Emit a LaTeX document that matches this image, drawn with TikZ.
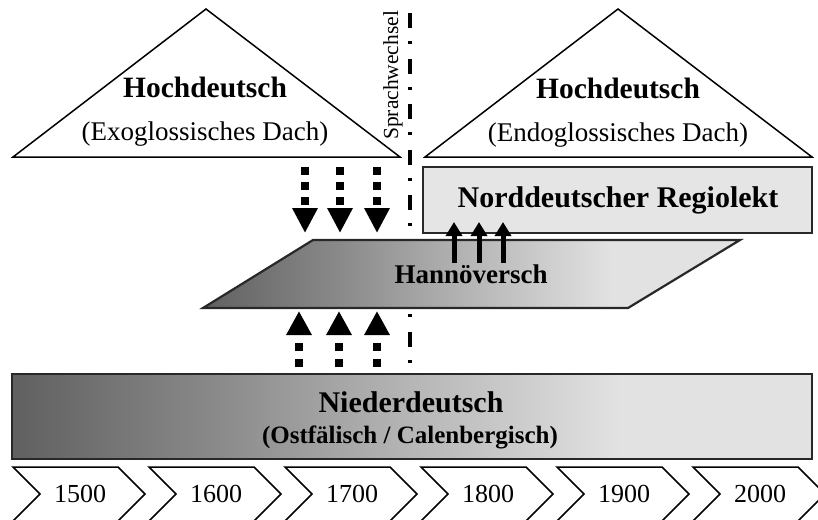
\documentclass[tikz,border=0pt]{standalone}
\usepackage{fontspec}
\setmainfont{Liberation Serif}
\usetikzlibrary{arrows.meta}
\definecolor{edgegray}{RGB}{40,40,40}
\definecolor{darkshade}{RGB}{96,96,96}
\definecolor{gradA}{RGB}{138,137,137}
\definecolor{midshade}{RGB}{182,182,182}
\definecolor{gradB}{RGB}{208,207,207}
\definecolor{lightshade}{RGB}{226,226,226}
\definecolor{boxfill}{RGB}{229,229,229}
\pgfdeclarehorizontalshading{ndshade}{100bp}{color(0bp)=(darkshade); color(25bp)=(darkshade); color(37.5bp)=(gradA); color(50bp)=(midshade); color(57.5bp)=(gradB); color(63bp)=(lightshade); color(100bp)=(lightshade)}
\tikzset{
  roof/.style={draw=black, line width=1.5pt, fill=white, line join=miter},
  graybox/.style={draw=edgegray, line width=2.2pt},
  dotshaft/.style={line width=8pt, dash pattern=on 8pt off 7pt, -{Triangle[width=24pt,length=25pt]}},
  dotshaftup/.style={line width=8pt, dash pattern=on 8pt off 8pt, -{Triangle[width=24pt,length=24pt]}},
  solidarrow/.style={line width=5pt, -{Triangle[width=16pt,length=14pt]}},
  chev/.style={draw=black, line width=1.5pt, fill=white, line join=miter},
  bigbold/.style={font=\bfseries\fontsize{29.5}{32}\selectfont, anchor=base, inner sep=0pt},
  subtext/.style={font=\fontsize{27}{30}\selectfont, anchor=base, inner sep=0pt},
  yeartext/.style={font=\fontsize{26}{28}\selectfont, anchor=base, inner sep=0pt},
}
\begin{document}
\begin{tikzpicture}[x=1pt,y=-1pt]
\useasboundingbox (0,0) rectangle (818,519);
\fill[white] (0,0) rectangle (818,519);

% Sprachwechsel line
\coordinate (swtop) at (410,13);
\coordinate (swbot) at (410,366);
\draw[line width=4.5pt, dash pattern=on 15pt off 13pt on 3pt off 14.5pt] (swtop) -- (swbot);
\node[font=\fontsize{21.5}{24}\selectfont, rotate=90, anchor=base west, inner sep=0pt] (sw) at (398,140) {Sprachwechsel};

% roofs
\draw[roof] (13,157) -- (206,9) -- (400,157) -- cycle;
\node[bigbold] (hd1) at (205,97) {Hochdeutsch};
\node[subtext] (exo) at (205,140) {(Exoglossisches Dach)};

\draw[roof] (425,157) -- (618,9) -- (812,157) -- cycle;
\node[bigbold] (hd2) at (618,98) {Hochdeutsch};
\node[subtext] (endo) at (618,141) {(Endoglossisches Dach)};

% Regiolekt box
\draw[graybox, fill=boxfill] (423,167) rectangle (812,233);
\node[font=\bfseries\fontsize{30}{32}\selectfont, anchor=base, inner sep=0pt] (reg) at (618,207) {Norddeutscher Regiolekt};

% Hannoeversch parallelogram
\shade[shading=ndshade]
  (313,240) -- (740,240) -- (628,308) -- (203,308) -- cycle;
\draw[graybox, line join=miter] (313,240) -- (740,240) -- (628,308) -- (203,308) -- cycle;
\node[font=\bfseries\fontsize{27}{30}\selectfont, anchor=base, inner sep=0pt] (han) at (471,283) {Hannöversch};

% Niederdeutsch box
\shade[shading=ndshade] (12,374) rectangle (812,459);
\draw[graybox] (12,374) rectangle (812,459);
\node[font=\bfseries\fontsize{30}{32}\selectfont, anchor=base, inner sep=0pt] (nd) at (411,412) {Niederdeutsch};
\node[font=\bfseries\fontsize{25}{28}\selectfont, anchor=base, inner sep=0pt] (ost) at (410,443) {(Ostfälisch / Calenbergisch)};

% arrows down from exoglossic roof
\foreach \x [count=\i] in {305,340,377}{
  \coordinate (dtop\i) at (\x,167);
  \coordinate (dbot\i) at (\x,233);
  \draw[dotshaft] (dtop\i) -- (dbot\i);
}
% arrows up from Niederdeutsch
\foreach \x [count=\i] in {299,339,377}{
  \coordinate (utop\i) at (\x,311);
  \coordinate (ubot\i) at (\x,367);
  \draw[dotshaftup] (ubot\i) -- (utop\i);
}
% arrows up into Regiolekt
\foreach \x [count=\i] in {454,479,503}{
  \coordinate (rtop\i) at (\x,222);
  \coordinate (rbot\i) at (\x,263);
  \draw[solidarrow] (rbot\i) -- (rtop\i);
}

% timeline chevrons
\foreach \yr [count=\i] in {1500,1600,1700,1800,1900,2000}{
  \pgfmathsetmacro{\s}{13+136*(\i-1)}
  \draw[chev] (\s,467) -- (\s+105,467) -- (\s+132,494) -- (\s+105,521) -- (\s,521) -- (\s+27,494) -- cycle;
  \node[yeartext] (yr\i) at (\s+67,502) {\yr};
}
\end{tikzpicture}
\end{document}
